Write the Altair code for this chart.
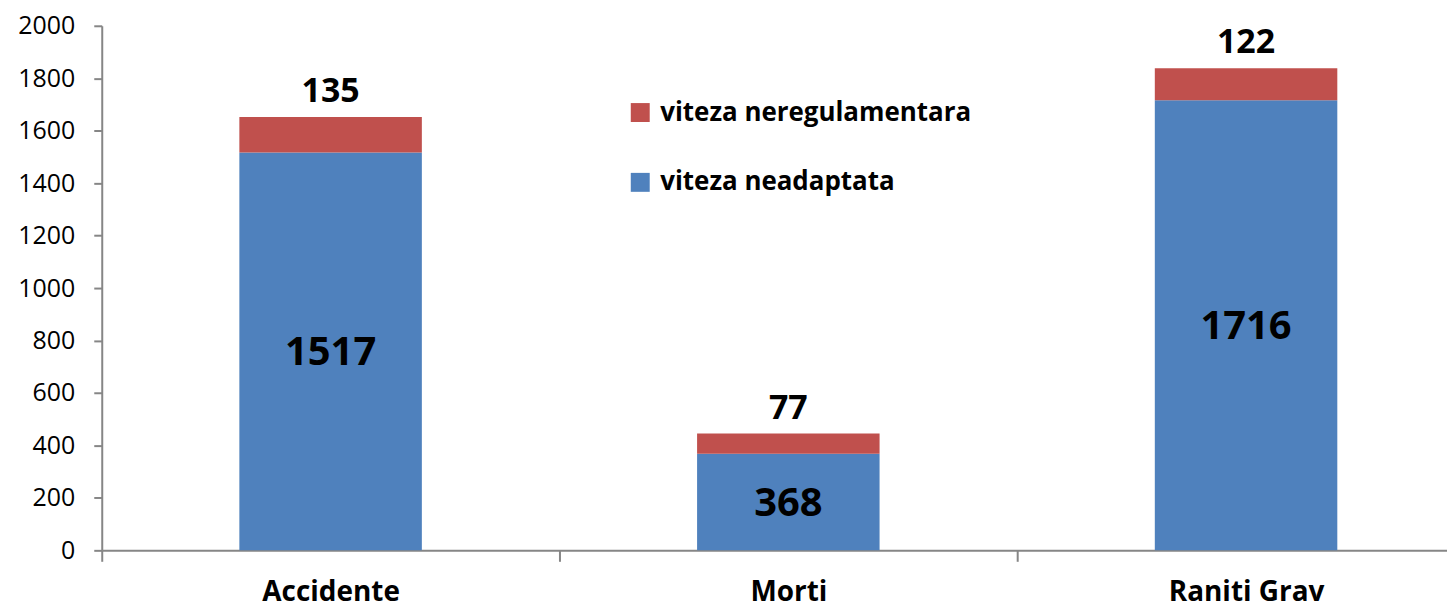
import altair as alt
import pandas as pd

categories = ["Accidente", "Morti", "Raniti Grav"]
neadaptata = [1517, 368, 1716]
neregulamentara = [135, 77, 122]
series_names = ["viteza neregulamentara", "viteza neadaptata"]
series_colors = ["#C0504D", "#4F81BD"]
y_ticks = list(range(0, 2001, 200))

rows = []
for c, a, b in zip(categories, neadaptata, neregulamentara):
    rows.append({"cat": c, "series": "viteza neadaptata", "value": a, "ord": 0})
    rows.append({"cat": c, "series": "viteza neregulamentara", "value": b, "ord": 1})
df = pd.DataFrame(rows)

lab = pd.DataFrame({
    "cat": categories,
    "mid": [a / 2 for a in neadaptata],
    "total": [a + b for a, b in zip(neadaptata, neregulamentara)],
    "blue": [str(a) for a in neadaptata],
    "red": [str(b) for b in neregulamentara],
})

FONT = "Open Sans"

x_enc = alt.X("cat:N", sort=categories, title=None,
              scale=alt.Scale(range=[0, 1377], paddingInner=0, paddingOuter=0),
              axis=alt.Axis(labelAngle=0, labelFont=FONT, labelFontSize=28, labelFontWeight="bold",
                            labelColor="black", tickBand="extent", tickSize=11, tickColor="#868686",
                            domainColor="#868686", domainWidth=2, tickWidth=2, labelPadding=17))

bars = alt.Chart(df).mark_bar(width=183).encode(
    x=x_enc,
    y=alt.Y("value:Q", stack="zero", title=None,
            scale=alt.Scale(domain=[0, 2000], nice=False),
            axis=alt.Axis(values=y_ticks, format="d", grid=False, labelFont=FONT, labelFontSize=25,
                          labelColor="black", tickSize=8, tickColor="#868686",
                          domainColor="#868686", domainWidth=2, tickWidth=2, labelPadding=19)),
    color=alt.Color("series:N", sort=series_names,
                    scale=alt.Scale(domain=series_names, range=series_colors),
                    legend=alt.Legend(title=None, orient="none", legendX=527, legendY=74,
                                      direction="vertical", symbolType="square", symbolSize=361,
                                      symbolStrokeWidth=0, symbolOpacity=1, labelFont=FONT,
                                      labelFontSize=26, labelFontWeight="bold", labelColor="black",
                                      labelOffset=7, rowPadding=44, labelLimit=600)),
    order=alt.Order("ord:Q"),
)

blue_text = alt.Chart(lab).mark_text(font=FONT, fontSize=40, fontWeight="bold", color="black",
                                     baseline="alphabetic", dy=14).encode(
    x=alt.X("cat:N", sort=categories),
    y=alt.Y("mid:Q"),
    text="blue:N",
)

red_text = alt.Chart(lab).mark_text(font=FONT, fontSize=34, fontWeight="bold", color="black",
                                    baseline="alphabetic", dy=-15).encode(
    x=alt.X("cat:N", sort=categories),
    y=alt.Y("total:Q"),
    text="red:N",
)

chart = alt.layer(bars, blue_text, red_text).properties(
    width=1349, height=526,
    autosize=alt.AutoSizeParams(type="none"),
    padding={"left": 94, "top": 17, "right": 0, "bottom": 58},
    background="white",
).configure_view(stroke=None)

chart.save("out.html", embed_options={"renderer": "svg", "actions": False})
